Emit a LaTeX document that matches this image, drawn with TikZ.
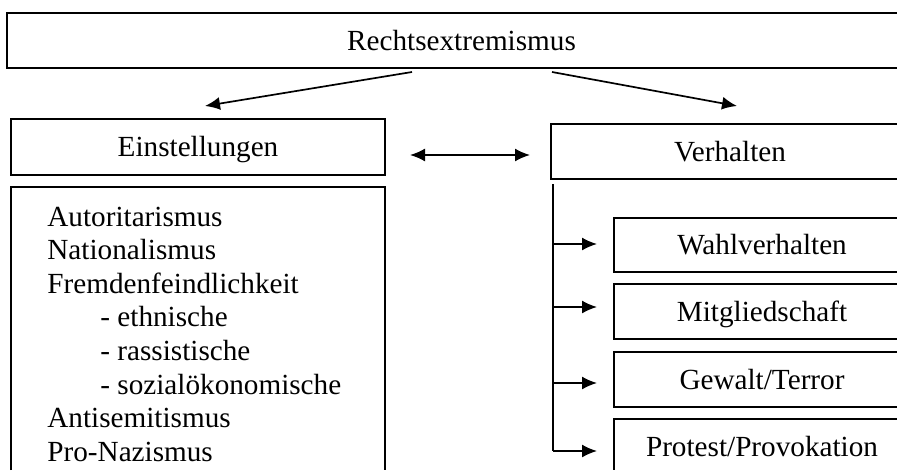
\documentclass[tikz,border=0pt]{standalone}
\usepackage{fontspec}
\setmainfont{Liberation Serif}
\usetikzlibrary{arrows.meta}
\begin{document}
\begin{tikzpicture}[x=0.5pt,y=-0.5pt,
  txt/.style={font=\fontsize{14.6pt}{16.8pt}\selectfont},
  box/.style={txt, draw, line width=1pt, inner sep=0pt, text height=12pt, text depth=2.3pt},
  obox/.style={txt, inner sep=0pt, text height=12pt, text depth=2.3pt},
  edge/.style={line width=1pt},
  item/.style={txt, anchor=base west, inner sep=0pt},
  conn/.style={line width=0.85pt},
  arr/.style={conn, -{Latex[length=7.5pt,width=6.5pt]}},
  darr/.style={conn, {Latex[length=7.5pt,width=6.5pt]}-{Latex[length=7.5pt,width=6.5pt]}}]
\useasboundingbox (0,0) rectangle (897,470);
% boxes (open ones run past the right edge of the picture)
\node[obox, minimum width=454.5pt, minimum height=27.5pt] (top) at (461.5,40.5) {Rechtsextremismus};
\node[box, minimum width=187pt, minimum height=28pt] (einst) at (198,147) {Einstellungen};
\node[obox, minimum width=187pt, minimum height=149pt] (list) at (198,336) {};
\node[obox, minimum width=179pt, minimum height=27.5pt] (verh) at (730,151.5) {Verhalten};
\node[obox, minimum width=148pt, minimum height=27pt] (wahl) at (762,245) {Wahlverhalten};
\node[obox, minimum width=148pt, minimum height=27.5pt] (mitg) at (762,311.5) {Mitgliedschaft};
\node[obox, minimum width=148pt, minimum height=27.5pt] (gew) at (762,379.5) {Gewalt/Terror};
\node[obox, minimum width=148pt, minimum height=27.5pt] (prot) at (762,446.5) {Protest/Provokation};
\coordinate (edgeR) at (897,0);
\coordinate (edgeB) at (0,470);
\draw[edge] (top.north -| edgeR) -- (top.north west) -- (top.south west) -- (top.south -| edgeR);
\draw[edge] (list.south west |- edgeB) -- (list.north west) -- (list.north east) -- (list.south east |- edgeB);
\foreach \b in {verh,wahl,mitg,gew}
  \draw[edge] (\b.north -| edgeR) -- (\b.north west) -- (\b.south west) -- (\b.south -| edgeR);
\draw[edge] (prot.north -| edgeR) -- (prot.north west) -- (prot.west |- edgeB);
% list text
\node[item] (l1) at (47,226) {Autoritarismus};
\node[item] (l2) at (47,259.6) {Nationalismus};
\node[item] (l3) at (47,293.2) {Fremdenfeindlichkeit};
\node[item] (l4) at (100,326.8) {- ethnische};
\node[item] (l5) at (100,360.4) {- rassistische};
\node[item] (l6) at (100,394) {- sozialökonomische};
\node[item] (l7) at (47,427.6) {Antisemitismus};
\node[item] (l8) at (47,461.2) {Pro-Nazismus};
% top arrows
\coordinate (ta1) at (412,72);
\coordinate (tb1) at (205,106);
\coordinate (ta2) at (552,72);
\coordinate (tb2) at (737,106);
\draw[arr] (ta1) -- (tb1);
\draw[arr] (ta2) -- (tb2);
% double arrow
\coordinate (d1) at (410,155);
\coordinate (d2) at (530,155);
\draw[darr] (d1) -- (d2);
% trunk
\coordinate (v0) at (553,184);
\coordinate (v1) at (553,244);
\coordinate (v2) at (553,307);
\coordinate (v3) at (553,383);
\coordinate (v4) at (553,451);
\coordinate (w1) at (597,244);
\coordinate (w2) at (597,307);
\coordinate (w3) at (597,383);
\coordinate (w4) at (597,451);
\draw[conn] (v0) -- (v4);
\draw[arr] (v1) -- (w1);
\draw[arr] (v2) -- (w2);
\draw[arr] (v3) -- (w3);
\draw[arr] (v4) -- (w4);
\end{tikzpicture}
\end{document}
